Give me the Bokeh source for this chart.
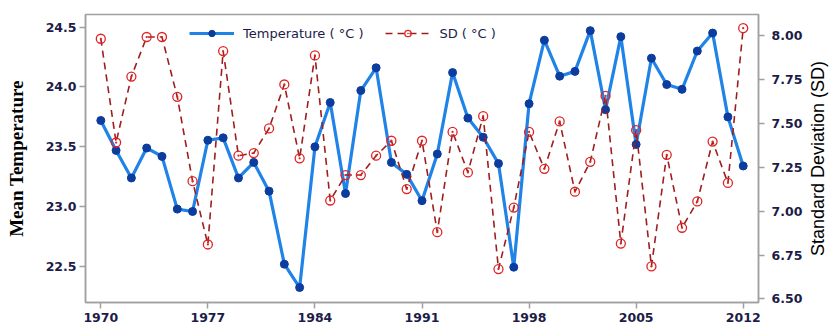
from bokeh.plotting import figure
from bokeh.layouts import row
from bokeh.models import (Range1d, LinearAxis, FixedTicker, Legend, LegendItem,
                          NumeralTickFormatter, ColumnDataSource, Title)
from bokeh.embed import file_html
from bokeh.resources import INLINE

years = list(range(1970, 2013))
temperature = [23.72, 23.47, 23.24, 23.49, 23.42, 22.98, 22.96, 23.555, 23.575, 23.24,
               23.37, 23.13, 22.52, 22.325, 23.50, 23.87, 23.11, 23.97, 24.16, 23.37,
               23.27, 23.05, 23.44, 24.12, 23.74, 23.58, 23.36, 22.495, 23.86, 24.39,
               24.09, 24.13, 24.47, 23.81, 24.42, 23.52, 24.24, 24.02, 23.98, 24.30,
               24.45, 23.75, 23.34]
sd = [7.98, 7.39, 7.765, 7.99, 7.99, 7.65, 7.17, 6.81, 7.91, 7.315,
      7.33, 7.47, 7.72, 7.30, 7.885, 7.06, 7.205, 7.205, 7.315, 7.40,
      7.125, 7.40, 6.88, 7.45, 7.22, 7.54, 6.67, 7.02, 7.45, 7.24,
      7.51, 7.11, 7.28, 7.655, 6.815, 7.46, 6.685, 7.32, 6.905, 7.055,
      7.395, 7.16, 8.04]
x_ticks = [1970, 1977, 1984, 1991, 1998, 2005, 2012]
left_ticks = [22.5, 23.0, 23.5, 24.0, 24.5]
right_ticks = [6.50, 6.75, 7.00, 7.25, 7.50, 7.75, 8.00]
right_title = "Standard Deviation (SD)"

src = ColumnDataSource(dict(year=years, temp=temperature, sd=sd))

TICK_COLOR = "#1c1c48"
AXIS_GRAY = "#a0a0a0"

p = figure(width=805, height=326, output_backend="svg", toolbar_location=None,
           x_range=Range1d(1969.0, 2013.0), y_range=Range1d(22.2, 24.605),
           min_border_left=85, min_border_right=46, min_border_top=14,
           min_border_bottom=24)
p.extra_y_ranges = {"sd": Range1d(6.48, 8.118)}
p.xgrid.visible = False
p.ygrid.visible = False
p.outline_line_color = AXIS_GRAY
p.outline_line_width = 1.5
p.background_fill_color = "white"
p.border_fill_color = "white"

t_line = p.line("year", "temp", source=src, line_color="#1f83e8", line_width=3.2)
t_pts = p.scatter("year", "temp", source=src, size=8, marker="circle",
                  fill_color="#0b3c9e", line_color="#0b3c9e")

s_line = p.line("year", "sd", source=src, y_range_name="sd", line_color="#9e1e1e",
                line_width=1.6, line_dash="7 5")
s_pts = p.scatter("year", "sd", source=src, y_range_name="sd", size=9,
                  marker="circle_dot", fill_color=None, line_color="#e02424",
                  line_width=1.3)

def style_axis(ax):
    ax.axis_line_color = AXIS_GRAY
    ax.axis_line_width = 1.5
    ax.major_tick_line_color = AXIS_GRAY
    ax.major_tick_line_width = 1.5
    ax.major_tick_out = 6
    ax.major_tick_in = 0
    ax.minor_tick_line_color = None
    ax.major_label_text_font = "DejaVu Sans"
    ax.major_label_text_font_style = "bold"
    ax.major_label_text_font_size = "12.5px"
    ax.major_label_text_color = TICK_COLOR
    ax.major_label_standoff = 3

style_axis(p.xaxis[0])
p.xaxis[0].ticker = FixedTicker(ticks=x_ticks)
p.xaxis[0].major_label_standoff = 4

ly = p.yaxis[0]
style_axis(ly)
ly.ticker = FixedTicker(ticks=left_ticks)
ly.formatter = NumeralTickFormatter(format="0.0")
ly.axis_label = "Mean Temperature"
ly.axis_label_text_font = "Liberation Serif"
ly.axis_label_text_font_style = "bold"
ly.axis_label_text_font_size = "19px"
ly.axis_label_text_color = "black"
ly.axis_label_standoff = 16

ry = LinearAxis(y_range_name="sd")
style_axis(ry)
ry.ticker = FixedTicker(ticks=right_ticks)
ry.formatter = NumeralTickFormatter(format="0.00")
ry.major_label_standoff = 7
p.add_layout(ry, "right")

legend = Legend(items=[LegendItem(label="Temperature ( °C )", renderers=[t_line, t_pts]),
                       LegendItem(label="SD ( °C )", renderers=[s_line, s_pts])],
                location=(104, 261), orientation="horizontal")
legend.border_line_color = None
legend.background_fill_alpha = 0
legend.padding = 0
legend.margin = 0
legend.spacing = 22
legend.glyph_width = 45
legend.glyph_height = 16
legend.label_standoff = 9
legend.label_text_font = "DejaVu Sans"
legend.label_text_font_size = "13px"
legend.label_text_color = TICK_COLOR
p.add_layout(legend, "center")

# narrow companion figure that carries the right-hand axis title (reads bottom-to-top)
p2 = figure(width=27, height=326, output_backend="svg", toolbar_location=None,
            min_border_left=5, min_border_right=0, min_border_top=14,
            min_border_bottom=24, x_range=Range1d(0, 1), y_range=Range1d(0, 1))
p2.axis.visible = False
p2.xgrid.visible = False
p2.ygrid.visible = False
p2.outline_line_color = None
p2.border_fill_color = "white"
p2.background_fill_color = "white"
p2.add_layout(Title(text=right_title, align="center", text_font="Liberation Sans",
                    text_font_style="normal", text_font_size="18px",
                    text_color="black", standoff=0, offset=0), "left")

layout = row(p, p2, spacing=0)
open("out.html", "w").write(file_html(layout, INLINE))
